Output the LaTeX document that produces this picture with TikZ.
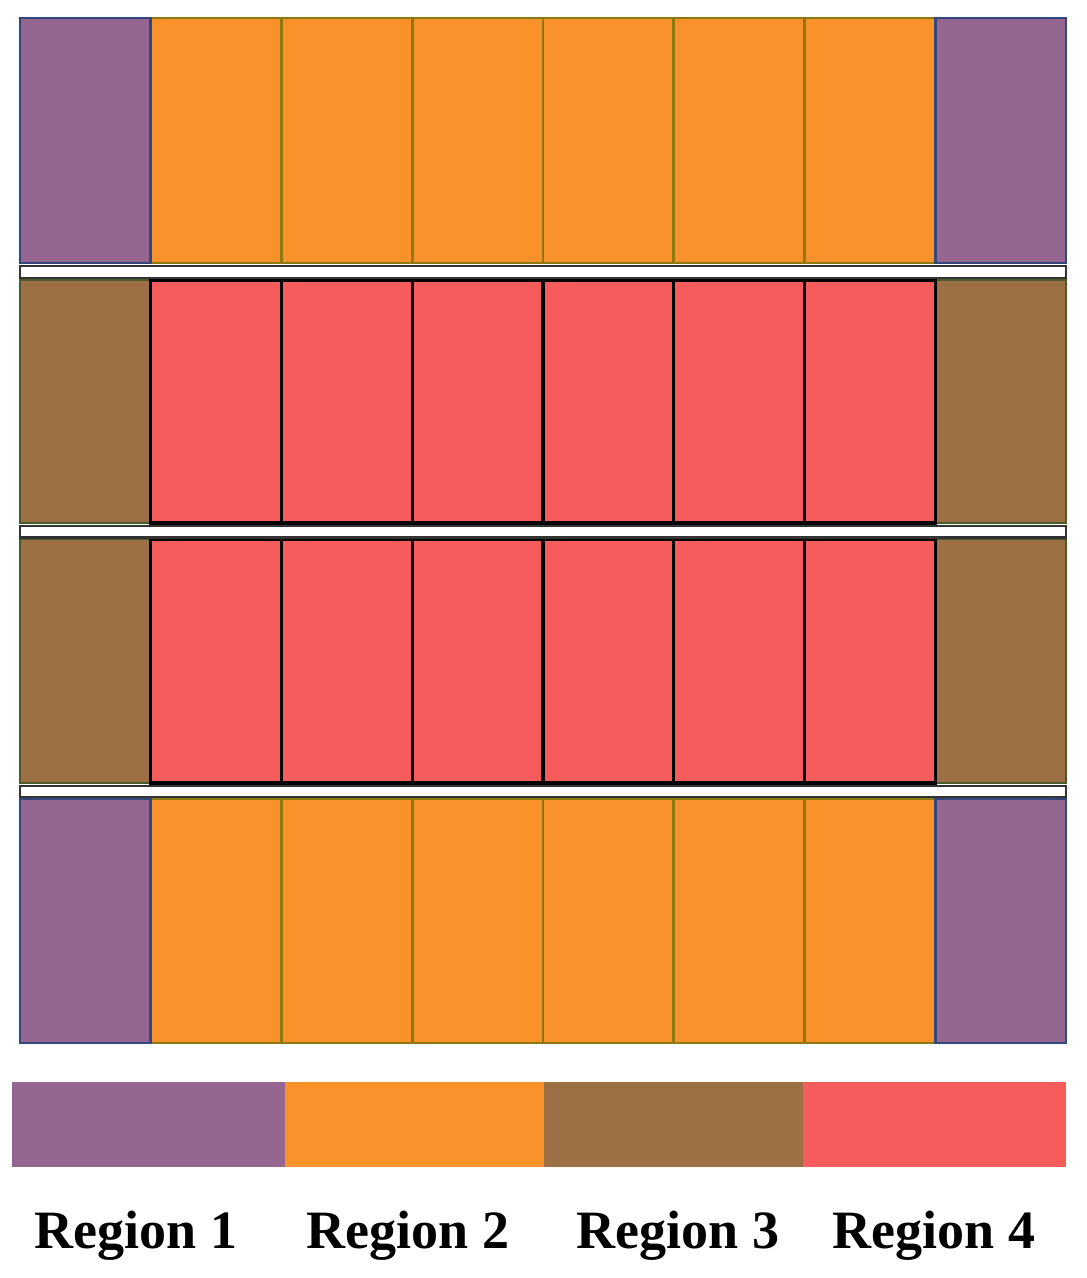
\documentclass[tikz,border=0pt]{standalone}
\usepackage{fontspec}
\setmainfont{Liberation Serif}
\definecolor{rpurple}{HTML}{956690}
\definecolor{rorange}{HTML}{F9922B}
\definecolor{rbrown}{HTML}{9C6F45}
\definecolor{rred}{HTML}{F65C5C}
\definecolor{borange}{HTML}{8C7A10}
\definecolor{bpurple}{HTML}{34467E}
\definecolor{bbrown}{HTML}{4B5A2A}
\definecolor{bsep}{HTML}{333333}
\tikzset{
  cellpurple/.style={fill=rpurple, draw=bpurple, line width=2.6pt},
  cellorange/.style={fill=rorange, draw=borange, line width=2.8pt},
  cellbrown/.style={fill=rbrown, draw=bbrown, line width=2.6pt},
  cellred/.style={fill=rred, draw=black, line width=3.2pt},
  sepbar/.style={fill=white, draw=bsep, line width=2.4pt},
  legtext/.style={font=\fontsize{54}{60}\selectfont\bfseries, anchor=base, inner sep=0pt}
}
\begin{document}
\begin{tikzpicture}[x=1pt,y=-1pt]
\useasboundingbox (0,0) rectangle (1087,1278);
\fill[white] (0,0) rectangle (1087,1278);
\def\cw{130.75}
% Row 1 and 4 (purple / orange)
\foreach \ya/\yb in {18/263, 799/1043}{
  \foreach \i in {1,...,6}{
    \draw[cellorange] ({20+\i*\cw},\ya) rectangle ({20+(\i+1)*\cw},\yb);
  }
  \draw[cellpurple] (20,\ya) rectangle ({20+\cw},\yb);
  \draw[cellpurple] ({20+7*\cw},\ya) rectangle (1066,\yb);
}
% Row 2 and 3 (brown / red)
\foreach \ya/\yb in {280/523, 539/783}{
  \draw[cellbrown] (20,\ya) rectangle ({20+\cw},\yb);
  \draw[cellbrown] ({20+7*\cw},\ya) rectangle (1066,\yb);
  \foreach \i in {1,...,6}{
    \draw[cellred] ({20+\i*\cw},\ya) rectangle ({20+(\i+1)*\cw},\yb);
  }
}
% separators
\foreach \ya/\yb in {266/278, 526/537.5, 786/797}{
  \draw[sepbar] (20,\ya) rectangle (1066,\yb);
}
% legend bar
\fill[rpurple] (12,1082) rectangle (285,1167);
\fill[rorange] (285,1082) rectangle (544,1167);
\fill[rbrown] (544,1082) rectangle (803,1167);
\fill[rred] (803,1082) rectangle (1066,1167);
% legend labels
\node[legtext] (l1) at (136,1248) {Region 1};
\node[legtext] (l2) at (408,1248) {Region 2};
\node[legtext] (l3) at (678,1248) {Region 3};
\node[legtext] (l4) at (934,1248) {Region 4};
\end{tikzpicture}
\end{document}
